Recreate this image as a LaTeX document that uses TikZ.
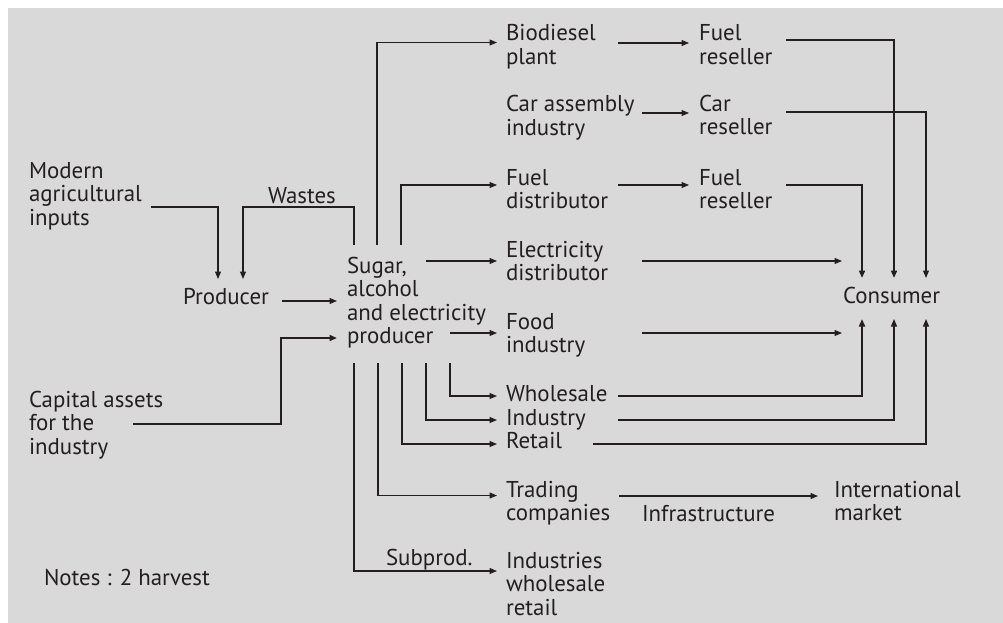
\documentclass[tikz,border=0pt]{standalone}
\usepackage{fontspec}
\setmainfont{PT Sans}
\usetikzlibrary{arrows.meta}
\definecolor{panel}{RGB}{217,217,217}
\definecolor{ink}{RGB}{35,31,32}
% multi-line label whose base anchor sits on the first line
\newcommand{\stack}[1]{\begin{tabular}[t]{@{}l@{}}#1\end{tabular}}

\begin{document}
\begin{tikzpicture}[x=1pt,y=-1pt,
  lbl/.style={anchor=base west, inner sep=0pt, outer sep=0pt, text=ink,
              font=\fontsize{22.9}{23.6}\selectfont},
  ln/.style={draw=ink, line width=1.1pt},
  arr/.style={ln, -{Triangle[length=7.5pt,width=6pt]}},
  heavy/.style={line width=1.9pt}]

\useasboundingbox (0,0) rectangle (1003,623);
\fill[panel] (8,8) rectangle (1003,623);

% ---------- labels ----------
\node[lbl] (mod)   at (29,178)  {\stack{Modern\\agricultural\\inputs}};
\node[lbl] (wst)   at (268,203) {Wastes};
\node[lbl] (prd)   at (183,304) {Producer};
\node[lbl] (sug)   at (347,273) {\stack{Sugar,\\alcohol\\and electricity\\producer}};
\node[lbl] (cap)   at (29,407)  {\stack{Capital assets\\for the\\industry}};
\node[lbl] (notes) at (44,585)  {Notes : 2 harvest};
\node[lbl] (sub)   at (386,565) {Subprod.};

\node[lbl] (bio)  at (506,41)  {\stack{Biodiesel\\plant}};
\node[lbl] (car)  at (506,112) {\stack{Car assembly\\industry}};
\node[lbl] (fdis) at (506,185) {\stack{Fuel\\distributor}};
\node[lbl] (edis) at (506,257) {\stack{Electricity\\distributor}};
\node[lbl] (food) at (506,329) {\stack{Food\\industry}};
\node[lbl] (whol) at (506,401) {Wholesale};
\node[lbl] (ind)  at (506,425) {Industry};
\node[lbl] (ret)  at (506,448) {Retail};
\node[lbl] (trad) at (506,497) {\stack{Trading\\companies}};
\node[lbl] (inds) at (506,568) {\stack{Industries\\wholesale\\retail}};

\node[lbl] (fr1) at (699,41)  {\stack{Fuel\\reseller}};
\node[lbl] (cr)  at (699,111) {\stack{Car\\reseller}};
\node[lbl] (fr2) at (699,185) {\stack{Fuel\\reseller}};

\node[lbl] (cons)  at (843,303) {Consumer};
\node[lbl] (infra) at (642,521) {Infrastructure};
\node[lbl] (intl)  at (834,497) {\stack{International\\market}};

% ---------- connector ports ----------
\coordinate (modOut)    at (151,207);
\coordinate (prdInA)    at (218,279);
\coordinate (wasteUp)   at (354,245);
\coordinate (wasteBend) at (243,207);
\coordinate (prdInB)    at (243,279);
\coordinate (prdOut)    at (282,301);
\coordinate (sugInA)    at (337,301);
\coordinate (capOut)    at (133,424);
\coordinate (capBend)   at (281,338);
\coordinate (sugInB)    at (337,338);

\coordinate (sugT1) at (377,245);
\coordinate (sugT2) at (401,245);
\coordinate (sugR1) at (426,261);
\coordinate (sugR2) at (450,333);
\coordinate (sugB1) at (354,363);
\coordinate (sugB2) at (378,363);
\coordinate (sugB3) at (402,363);
\coordinate (sugB4) at (426,363);
\coordinate (sugB5) at (450,363);

\coordinate (bioIn)  at (497,42.5);
\coordinate (fdisIn) at (497,185);
\coordinate (edisIn) at (497,261);
\coordinate (foodIn) at (497,333);
\coordinate (wholIn) at (497,396);
\coordinate (indIn)  at (497,420);
\coordinate (retIn)  at (497,444);
\coordinate (tradIn) at (497,495.5);
\coordinate (indsIn) at (497,571);

\coordinate (bioOut)  at (618,43);
\coordinate (fr1In)   at (689,43);
\coordinate (carOut)  at (642,113);
\coordinate (crIn)    at (689,113);
\coordinate (fdisOut) at (618,185);
\coordinate (fr2In)   at (689,185);

\coordinate (fr1Out)  at (786,40);
\coordinate (crOut)   at (786,112);
\coordinate (fr2Out)  at (786,185);
\coordinate (edisOut) at (642,261);
\coordinate (foodOut) at (642,333);
\coordinate (wholOut) at (618,396);
\coordinate (indOut)  at (618,420);
\coordinate (retOut)  at (593,444);
\coordinate (tradOut) at (619,496);

\coordinate (consT1) at (862,278);
\coordinate (consT2) at (894,278);
\coordinate (consT3) at (926,278);
\coordinate (consL1) at (842,261);
\coordinate (consL2) at (842,333);
\coordinate (consB1) at (862,319);
\coordinate (consB2) at (894,319);
\coordinate (consB3) at (926,319);
\coordinate (intlIn) at (818,496);

% ---------- inputs to the producers ----------
\draw[arr] (modOut) -| (prdInA);
\draw[arr] (wasteUp) |- (wasteBend) -- (prdInB);
\draw[arr] (prdOut) -- (sugInA);
\draw[arr,heavy] (capOut) -| (capBend) -- (sugInB);

% ---------- outputs of the mill ----------
\draw[arr] (sugT1) |- (bioIn);
\draw[arr] (sugT2) |- (fdisIn);
\draw[arr] (sugR1) -- (edisIn);
\draw[arr] (sugR2) -- (foodIn);
\draw[arr] (sugB5) |- (wholIn);
\draw[arr] (sugB4) |- (indIn);
\draw[arr] (sugB3) |- (retIn);
\draw[arr] (sugB2) |- (tradIn);
\draw[arr] (sugB1) |- (indsIn);

% ---------- resellers ----------
\draw[arr] (bioOut) -- (fr1In);
\draw[arr] (carOut) -- (crIn);
\draw[arr] (fdisOut) -- (fr2In);

% ---------- to the consumer ----------
\draw[arr,heavy] (fr1Out) -| (consT2);
\draw[arr] (crOut) -| (consT3);
\draw[arr,heavy] (fr2Out) -| (consT1);
\draw[arr] (edisOut) -- (consL1);
\draw[arr] (foodOut) -- (consL2);
\draw[arr,heavy] (wholOut) -| (consB1);
\draw[arr] (indOut) -| (consB2);
\draw[arr] (retOut) -| (consB3);

% ---------- export ----------
\draw[arr] (tradOut) -- (intlIn);

\end{tikzpicture}
\end{document}
